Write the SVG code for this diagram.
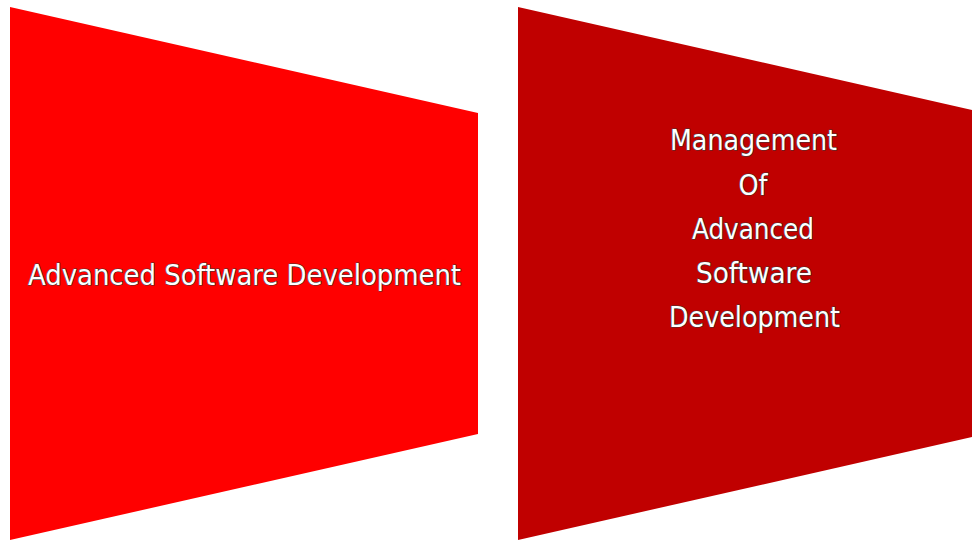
<svg xmlns="http://www.w3.org/2000/svg" width="972" height="540" viewBox="0 0 972 540">
<style>
.lbl{font-family:"DejaVu Sans Condensed","DejaVu Sans",sans-serif;font-size:27.5px;fill:#ffffff;stroke:#3a3a3a;stroke-width:1.2px;paint-order:stroke;text-anchor:middle;stroke-linejoin:round}
</style>
<rect width="972" height="540" fill="#ffffff"/>
<g id="node-left">
<polygon points="10,7 478,113 478,434 10,540" fill="#ff0000"/>
<text class="lbl" x="244.5" y="285" textLength="433" lengthAdjust="spacingAndGlyphs">Advanced Software Development</text>
</g>
<g id="node-right">
<polygon points="518,7 972,110 972,437 518,540" fill="#c00000"/>
<text class="lbl" x="753.5" y="150" textLength="167" lengthAdjust="spacingAndGlyphs">Management</text>
<text class="lbl" x="753" y="195" textLength="29" lengthAdjust="spacingAndGlyphs">Of</text>
<text class="lbl" x="753" y="239" textLength="122" lengthAdjust="spacingAndGlyphs">Advanced</text>
<text class="lbl" x="754" y="283" textLength="116" lengthAdjust="spacingAndGlyphs">Software</text>
<text class="lbl" x="754.5" y="327" textLength="171" lengthAdjust="spacingAndGlyphs">Development</text>
</g>
<g id="connectors"></g>
</svg>
